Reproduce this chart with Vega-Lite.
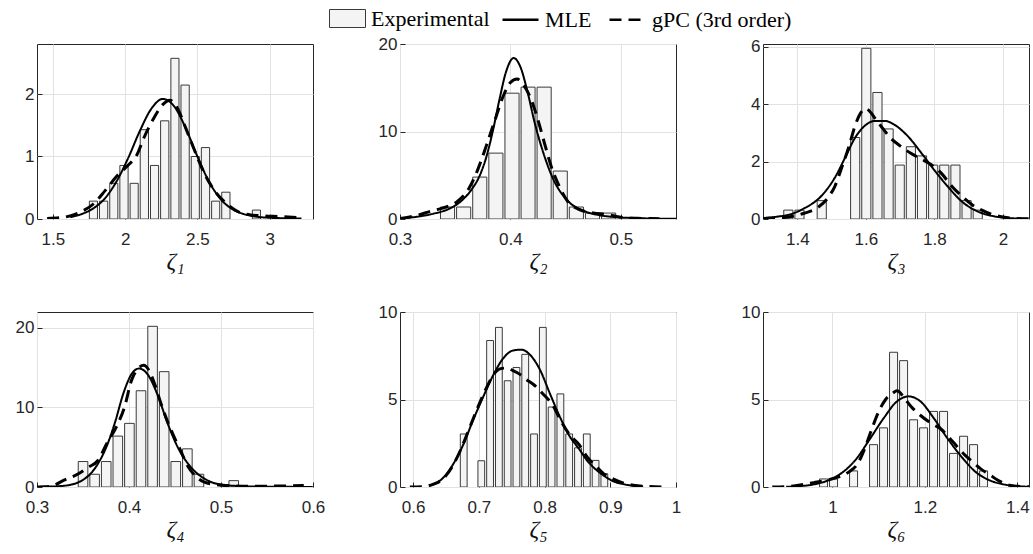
{
"$schema":"https://vega.github.io/schema/vega-lite/v6.json",
"background":"white",
"padding":{"left":14,"top":0,"right":0,"bottom":0},
"datasets":{
"bars":[
{"p":1,"lo":1.742,"hi":1.812,"d":0.286},{"p":1,"lo":1.812,"hi":1.883,"d":0.286},{"p":1,"lo":1.883,"hi":1.953,"d":0.571},{"p":1,"lo":1.953,"hi":2.024,"d":0.857},{"p":1,"lo":2.024,"hi":2.094,"d":0.571},{"p":1,"lo":2.094,"hi":2.165,"d":1.429},{"p":1,"lo":2.165,"hi":2.235,"d":0.857},{"p":1,"lo":2.235,"hi":2.306,"d":1.571},{"p":1,"lo":2.306,"hi":2.376,"d":2.571},{"p":1,"lo":2.376,"hi":2.447,"d":2.143},{"p":1,"lo":2.447,"hi":2.517,"d":1.0},{"p":1,"lo":2.517,"hi":2.588,"d":1.143},{"p":1,"lo":2.588,"hi":2.658,"d":0.286},{"p":1,"lo":2.658,"hi":2.729,"d":0.429},{"p":1,"lo":2.870,"hi":2.940,"d":0.143},
{"p":2,"lo":0.3353,"hi":0.3499,"d":1.37},{"p":2,"lo":0.3499,"hi":0.3645,"d":1.37},{"p":2,"lo":0.3645,"hi":0.3791,"d":4.79},{"p":2,"lo":0.3791,"hi":0.3937,"d":7.53},{"p":2,"lo":0.3937,"hi":0.4083,"d":14.38},{"p":2,"lo":0.4083,"hi":0.4228,"d":15.07},{"p":2,"lo":0.4228,"hi":0.4374,"d":15.07},{"p":2,"lo":0.4374,"hi":0.452,"d":5.48},{"p":2,"lo":0.452,"hi":0.4666,"d":1.37},{"p":2,"lo":0.4666,"hi":0.4812,"d":0.68},{"p":2,"lo":0.4812,"hi":0.4958,"d":0.68},
{"p":3,"lo":1.3562,"hi":1.3887,"d":0.31},{"p":3,"lo":1.3887,"hi":1.4212,"d":0.31},{"p":3,"lo":1.4537,"hi":1.4862,"d":0.64},{"p":3,"lo":1.5512,"hi":1.5837,"d":2.84},{"p":3,"lo":1.5837,"hi":1.6162,"d":5.95},{"p":3,"lo":1.6162,"hi":1.6487,"d":4.41},{"p":3,"lo":1.6487,"hi":1.6812,"d":3.14},{"p":3,"lo":1.6812,"hi":1.7137,"d":1.88},{"p":3,"lo":1.7137,"hi":1.7462,"d":2.52},{"p":3,"lo":1.7462,"hi":1.7787,"d":2.2},{"p":3,"lo":1.7787,"hi":1.8112,"d":1.88},{"p":3,"lo":1.8112,"hi":1.8437,"d":1.88},{"p":3,"lo":1.8437,"hi":1.8762,"d":1.88},{"p":3,"lo":1.8762,"hi":1.9087,"d":0.64},{"p":3,"lo":1.9087,"hi":1.9412,"d":0.31},
{"p":4,"lo":0.3432,"hi":0.3558,"d":3.2},{"p":4,"lo":0.3558,"hi":0.3684,"d":1.6},{"p":4,"lo":0.3684,"hi":0.381,"d":3.2},{"p":4,"lo":0.381,"hi":0.3936,"d":6.4},{"p":4,"lo":0.3936,"hi":0.4062,"d":8.0},{"p":4,"lo":0.4062,"hi":0.4188,"d":12.1},{"p":4,"lo":0.4188,"hi":0.4314,"d":20.2},{"p":4,"lo":0.4314,"hi":0.444,"d":14.5},{"p":4,"lo":0.444,"hi":0.4566,"d":3.2},{"p":4,"lo":0.4566,"hi":0.4692,"d":4.8},{"p":4,"lo":0.4692,"hi":0.4818,"d":1.6},{"p":4,"lo":0.507,"hi":0.5196,"d":0.8},
{"p":5,"lo":0.6695,"hi":0.6829,"d":3.03},{"p":5,"lo":0.6963,"hi":0.7096,"d":1.5},{"p":5,"lo":0.7096,"hi":0.723,"d":8.37},{"p":5,"lo":0.723,"hi":0.7364,"d":9.12},{"p":5,"lo":0.7364,"hi":0.7497,"d":6.07},{"p":5,"lo":0.7497,"hi":0.7631,"d":6.83},{"p":5,"lo":0.7631,"hi":0.7765,"d":7.58},{"p":5,"lo":0.7765,"hi":0.7899,"d":3.03},{"p":5,"lo":0.7899,"hi":0.8033,"d":9.12},{"p":5,"lo":0.8033,"hi":0.8166,"d":4.57},{"p":5,"lo":0.8166,"hi":0.83,"d":5.32},{"p":5,"lo":0.83,"hi":0.8434,"d":3.03},{"p":5,"lo":0.8434,"hi":0.8568,"d":2.24},{"p":5,"lo":0.8568,"hi":0.8702,"d":3.03},{"p":5,"lo":0.8702,"hi":0.8835,"d":1.52},{"p":5,"lo":0.8835,"hi":0.8969,"d":0.76},
{"p":6,"lo":0.969,"hi":0.9906,"d":0.46},{"p":6,"lo":0.9906,"hi":1.0122,"d":0.46},{"p":6,"lo":1.0339,"hi":1.0555,"d":0.92},{"p":6,"lo":1.0771,"hi":1.0987,"d":2.42},{"p":6,"lo":1.0987,"hi":1.1203,"d":3.38},{"p":6,"lo":1.1203,"hi":1.142,"d":7.7},{"p":6,"lo":1.142,"hi":1.1636,"d":7.22},{"p":6,"lo":1.1636,"hi":1.1852,"d":3.84},{"p":6,"lo":1.1852,"hi":1.2068,"d":3.38},{"p":6,"lo":1.2068,"hi":1.2284,"d":4.32},{"p":6,"lo":1.2284,"hi":1.25,"d":4.32},{"p":6,"lo":1.25,"hi":1.2717,"d":1.92},{"p":6,"lo":1.2717,"hi":1.2933,"d":2.9},{"p":6,"lo":1.2933,"hi":1.3149,"d":2.42},{"p":6,"lo":1.3149,"hi":1.3365,"d":0.92}
],
"curves":[
{"p":1,"s":"MLE","x":1.62,"y":0.03},{"p":1,"s":"MLE","x":1.70,"y":0.08},{"p":1,"s":"MLE","x":1.78,"y":0.17},{"p":1,"s":"MLE","x":1.86,"y":0.33},{"p":1,"s":"MLE","x":1.94,"y":0.6},{"p":1,"s":"MLE","x":2.02,"y":0.97},{"p":1,"s":"MLE","x":2.10,"y":1.4},{"p":1,"s":"MLE","x":2.18,"y":1.76},{"p":1,"s":"MLE","x":2.26,"y":1.92},{"p":1,"s":"MLE","x":2.34,"y":1.8},{"p":1,"s":"MLE","x":2.42,"y":1.45},{"p":1,"s":"MLE","x":2.50,"y":1.0},{"p":1,"s":"MLE","x":2.58,"y":0.6},{"p":1,"s":"MLE","x":2.66,"y":0.32},{"p":1,"s":"MLE","x":2.74,"y":0.16},{"p":1,"s":"MLE","x":2.82,"y":0.08},{"p":1,"s":"MLE","x":2.90,"y":0.04},{"p":1,"s":"MLE","x":3.00,"y":0.02},{"p":1,"s":"MLE","x":3.10,"y":0.012},{"p":1,"s":"MLE","x":3.22,"y":0.008},
{"p":1,"s":"gPC (3rd order)","x":1.46,"y":0.01},{"p":1,"s":"gPC (3rd order)","x":1.55,"y":0.02},{"p":1,"s":"gPC (3rd order)","x":1.62,"y":0.05},{"p":1,"s":"gPC (3rd order)","x":1.70,"y":0.12},{"p":1,"s":"gPC (3rd order)","x":1.78,"y":0.24},{"p":1,"s":"gPC (3rd order)","x":1.86,"y":0.45},{"p":1,"s":"gPC (3rd order)","x":1.94,"y":0.68},{"p":1,"s":"gPC (3rd order)","x":2.02,"y":0.86},{"p":1,"s":"gPC (3rd order)","x":2.08,"y":1.02},{"p":1,"s":"gPC (3rd order)","x":2.13,"y":1.3},{"p":1,"s":"gPC (3rd order)","x":2.20,"y":1.62},{"p":1,"s":"gPC (3rd order)","x":2.26,"y":1.83},{"p":1,"s":"gPC (3rd order)","x":2.31,"y":1.9},{"p":1,"s":"gPC (3rd order)","x":2.36,"y":1.78},{"p":1,"s":"gPC (3rd order)","x":2.42,"y":1.45},{"p":1,"s":"gPC (3rd order)","x":2.48,"y":1.1},{"p":1,"s":"gPC (3rd order)","x":2.55,"y":0.72},{"p":1,"s":"gPC (3rd order)","x":2.62,"y":0.45},{"p":1,"s":"gPC (3rd order)","x":2.70,"y":0.25},{"p":1,"s":"gPC (3rd order)","x":2.78,"y":0.12},{"p":1,"s":"gPC (3rd order)","x":2.86,"y":0.07},{"p":1,"s":"gPC (3rd order)","x":2.96,"y":0.05},{"p":1,"s":"gPC (3rd order)","x":3.06,"y":0.04},{"p":1,"s":"gPC (3rd order)","x":3.22,"y":0.02},
{"p":2,"s":"MLE","x":0.300,"y":0.08},{"p":2,"s":"MLE","x":0.315,"y":0.25},{"p":2,"s":"MLE","x":0.330,"y":0.6},{"p":2,"s":"MLE","x":0.345,"y":1.2},{"p":2,"s":"MLE","x":0.355,"y":2.0},{"p":2,"s":"MLE","x":0.365,"y":3.4},{"p":2,"s":"MLE","x":0.372,"y":4.9},{"p":2,"s":"MLE","x":0.378,"y":7.0},{"p":2,"s":"MLE","x":0.384,"y":10.0},{"p":2,"s":"MLE","x":0.390,"y":13.6},{"p":2,"s":"MLE","x":0.396,"y":16.8},{"p":2,"s":"MLE","x":0.403,"y":18.4},{"p":2,"s":"MLE","x":0.409,"y":17.4},{"p":2,"s":"MLE","x":0.415,"y":14.8},{"p":2,"s":"MLE","x":0.422,"y":11.0},{"p":2,"s":"MLE","x":0.430,"y":7.5},{"p":2,"s":"MLE","x":0.439,"y":4.5},{"p":2,"s":"MLE","x":0.451,"y":2.2},{"p":2,"s":"MLE","x":0.467,"y":0.9},{"p":2,"s":"MLE","x":0.480,"y":0.45},{"p":2,"s":"MLE","x":0.495,"y":0.22},{"p":2,"s":"MLE","x":0.520,"y":0.08},{"p":2,"s":"MLE","x":0.550,"y":0.02},
{"p":2,"s":"gPC (3rd order)","x":0.300,"y":0.05},{"p":2,"s":"gPC (3rd order)","x":0.315,"y":0.4},{"p":2,"s":"gPC (3rd order)","x":0.328,"y":0.9},{"p":2,"s":"gPC (3rd order)","x":0.340,"y":1.3},{"p":2,"s":"gPC (3rd order)","x":0.352,"y":2.0},{"p":2,"s":"gPC (3rd order)","x":0.362,"y":3.4},{"p":2,"s":"gPC (3rd order)","x":0.370,"y":5.5},{"p":2,"s":"gPC (3rd order)","x":0.378,"y":8.3},{"p":2,"s":"gPC (3rd order)","x":0.386,"y":11.3},{"p":2,"s":"gPC (3rd order)","x":0.394,"y":14.2},{"p":2,"s":"gPC (3rd order)","x":0.400,"y":15.6},{"p":2,"s":"gPC (3rd order)","x":0.406,"y":16.0},{"p":2,"s":"gPC (3rd order)","x":0.412,"y":15.3},{"p":2,"s":"gPC (3rd order)","x":0.419,"y":13.6},{"p":2,"s":"gPC (3rd order)","x":0.425,"y":11.3},{"p":2,"s":"gPC (3rd order)","x":0.431,"y":8.6},{"p":2,"s":"gPC (3rd order)","x":0.437,"y":6.0},{"p":2,"s":"gPC (3rd order)","x":0.444,"y":3.8},{"p":2,"s":"gPC (3rd order)","x":0.452,"y":2.0},{"p":2,"s":"gPC (3rd order)","x":0.462,"y":1.1},{"p":2,"s":"gPC (3rd order)","x":0.475,"y":0.7},{"p":2,"s":"gPC (3rd order)","x":0.488,"y":0.5},{"p":2,"s":"gPC (3rd order)","x":0.500,"y":0.2},{"p":2,"s":"gPC (3rd order)","x":0.515,"y":0.08},{"p":2,"s":"gPC (3rd order)","x":0.535,"y":0.03},
{"p":3,"s":"MLE","x":1.30,"y":0.03},{"p":3,"s":"MLE","x":1.34,"y":0.08},{"p":3,"s":"MLE","x":1.373,"y":0.14},{"p":3,"s":"MLE","x":1.42,"y":0.37},{"p":3,"s":"MLE","x":1.47,"y":0.8},{"p":3,"s":"MLE","x":1.51,"y":1.45},{"p":3,"s":"MLE","x":1.54,"y":2.15},{"p":3,"s":"MLE","x":1.567,"y":2.8},{"p":3,"s":"MLE","x":1.597,"y":3.25},{"p":3,"s":"MLE","x":1.626,"y":3.42},{"p":3,"s":"MLE","x":1.655,"y":3.42},{"p":3,"s":"MLE","x":1.684,"y":3.28},{"p":3,"s":"MLE","x":1.723,"y":2.88},{"p":3,"s":"MLE","x":1.762,"y":2.3},{"p":3,"s":"MLE","x":1.80,"y":1.7},{"p":3,"s":"MLE","x":1.84,"y":1.12},{"p":3,"s":"MLE","x":1.879,"y":0.62},{"p":3,"s":"MLE","x":1.927,"y":0.26},{"p":3,"s":"MLE","x":1.976,"y":0.09},{"p":3,"s":"MLE","x":2.02,"y":0.03},{"p":3,"s":"MLE","x":2.07,"y":0.01},
{"p":3,"s":"gPC (3rd order)","x":1.30,"y":0.02},{"p":3,"s":"gPC (3rd order)","x":1.36,"y":0.05},{"p":3,"s":"gPC (3rd order)","x":1.42,"y":0.2},{"p":3,"s":"gPC (3rd order)","x":1.46,"y":0.4},{"p":3,"s":"gPC (3rd order)","x":1.49,"y":0.75},{"p":3,"s":"gPC (3rd order)","x":1.51,"y":1.15},{"p":3,"s":"gPC (3rd order)","x":1.53,"y":1.8},{"p":3,"s":"gPC (3rd order)","x":1.55,"y":2.5},{"p":3,"s":"gPC (3rd order)","x":1.57,"y":3.3},{"p":3,"s":"gPC (3rd order)","x":1.585,"y":3.7},{"p":3,"s":"gPC (3rd order)","x":1.60,"y":3.85},{"p":3,"s":"gPC (3rd order)","x":1.615,"y":3.7},{"p":3,"s":"gPC (3rd order)","x":1.63,"y":3.45},{"p":3,"s":"gPC (3rd order)","x":1.65,"y":3.15},{"p":3,"s":"gPC (3rd order)","x":1.67,"y":2.85},{"p":3,"s":"gPC (3rd order)","x":1.70,"y":2.55},{"p":3,"s":"gPC (3rd order)","x":1.73,"y":2.3},{"p":3,"s":"gPC (3rd order)","x":1.76,"y":2.1},{"p":3,"s":"gPC (3rd order)","x":1.79,"y":1.9},{"p":3,"s":"gPC (3rd order)","x":1.82,"y":1.6},{"p":3,"s":"gPC (3rd order)","x":1.85,"y":1.15},{"p":3,"s":"gPC (3rd order)","x":1.88,"y":0.8},{"p":3,"s":"gPC (3rd order)","x":1.91,"y":0.5},{"p":3,"s":"gPC (3rd order)","x":1.94,"y":0.3},{"p":3,"s":"gPC (3rd order)","x":1.97,"y":0.15},{"p":3,"s":"gPC (3rd order)","x":2.00,"y":0.07},{"p":3,"s":"gPC (3rd order)","x":2.04,"y":0.02},{"p":3,"s":"gPC (3rd order)","x":2.08,"y":0.01},
{"p":4,"s":"MLE","x":0.303,"y":0.02},{"p":4,"s":"MLE","x":0.329,"y":0.15},{"p":4,"s":"MLE","x":0.35,"y":0.9},{"p":4,"s":"MLE","x":0.365,"y":2.7},{"p":4,"s":"MLE","x":0.376,"y":5.2},{"p":4,"s":"MLE","x":0.385,"y":8.2},{"p":4,"s":"MLE","x":0.394,"y":11.8},{"p":4,"s":"MLE","x":0.404,"y":14.4},{"p":4,"s":"MLE","x":0.411,"y":14.9},{"p":4,"s":"MLE","x":0.42,"y":14.2},{"p":4,"s":"MLE","x":0.431,"y":11.6},{"p":4,"s":"MLE","x":0.442,"y":8.0},{"p":4,"s":"MLE","x":0.453,"y":5.0},{"p":4,"s":"MLE","x":0.468,"y":2.4},{"p":4,"s":"MLE","x":0.486,"y":0.8},{"p":4,"s":"MLE","x":0.504,"y":0.25},{"p":4,"s":"MLE","x":0.534,"y":0.06},{"p":4,"s":"MLE","x":0.57,"y":0.02},{"p":4,"s":"MLE","x":0.6,"y":0.01},
{"p":4,"s":"gPC (3rd order)","x":0.300,"y":0.0},{"p":4,"s":"gPC (3rd order)","x":0.315,"y":0.1},{"p":4,"s":"gPC (3rd order)","x":0.330,"y":0.9},{"p":4,"s":"gPC (3rd order)","x":0.344,"y":1.6},{"p":4,"s":"gPC (3rd order)","x":0.356,"y":2.5},{"p":4,"s":"gPC (3rd order)","x":0.366,"y":3.3},{"p":4,"s":"gPC (3rd order)","x":0.376,"y":5.5},{"p":4,"s":"gPC (3rd order)","x":0.386,"y":7.5},{"p":4,"s":"gPC (3rd order)","x":0.395,"y":10.0},{"p":4,"s":"gPC (3rd order)","x":0.403,"y":13.5},{"p":4,"s":"gPC (3rd order)","x":0.410,"y":14.9},{"p":4,"s":"gPC (3rd order)","x":0.416,"y":15.3},{"p":4,"s":"gPC (3rd order)","x":0.422,"y":14.6},{"p":4,"s":"gPC (3rd order)","x":0.428,"y":12.9},{"p":4,"s":"gPC (3rd order)","x":0.435,"y":10.4},{"p":4,"s":"gPC (3rd order)","x":0.442,"y":8.2},{"p":4,"s":"gPC (3rd order)","x":0.449,"y":6.3},{"p":4,"s":"gPC (3rd order)","x":0.456,"y":4.6},{"p":4,"s":"gPC (3rd order)","x":0.464,"y":2.6},{"p":4,"s":"gPC (3rd order)","x":0.472,"y":1.4},{"p":4,"s":"gPC (3rd order)","x":0.482,"y":0.6},{"p":4,"s":"gPC (3rd order)","x":0.495,"y":0.3},{"p":4,"s":"gPC (3rd order)","x":0.51,"y":0.15},{"p":4,"s":"gPC (3rd order)","x":0.53,"y":0.1},{"p":4,"s":"gPC (3rd order)","x":0.56,"y":0.12},{"p":4,"s":"gPC (3rd order)","x":0.59,"y":0.2},
{"p":5,"s":"MLE","x":0.630,"y":0.12},{"p":5,"s":"MLE","x":0.645,"y":0.5},{"p":5,"s":"MLE","x":0.660,"y":1.25},{"p":5,"s":"MLE","x":0.676,"y":2.4},{"p":5,"s":"MLE","x":0.691,"y":3.8},{"p":5,"s":"MLE","x":0.706,"y":5.1},{"p":5,"s":"MLE","x":0.722,"y":6.4},{"p":5,"s":"MLE","x":0.737,"y":7.35},{"p":5,"s":"MLE","x":0.752,"y":7.8},{"p":5,"s":"MLE","x":0.765,"y":7.85},{"p":5,"s":"MLE","x":0.778,"y":7.55},{"p":5,"s":"MLE","x":0.793,"y":6.7},{"p":5,"s":"MLE","x":0.808,"y":5.35},{"p":5,"s":"MLE","x":0.824,"y":3.95},{"p":5,"s":"MLE","x":0.839,"y":2.85},{"p":5,"s":"MLE","x":0.852,"y":2.2},{"p":5,"s":"MLE","x":0.865,"y":1.5},{"p":5,"s":"MLE","x":0.878,"y":1.0},{"p":5,"s":"MLE","x":0.892,"y":0.6},{"p":5,"s":"MLE","x":0.905,"y":0.32},{"p":5,"s":"MLE","x":0.918,"y":0.18},{"p":5,"s":"MLE","x":0.935,"y":0.07},{"p":5,"s":"MLE","x":0.950,"y":0.03},
{"p":5,"s":"gPC (3rd order)","x":0.595,"y":0.0},{"p":5,"s":"gPC (3rd order)","x":0.615,"y":0.02},{"p":5,"s":"gPC (3rd order)","x":0.630,"y":0.15},{"p":5,"s":"gPC (3rd order)","x":0.645,"y":0.45},{"p":5,"s":"gPC (3rd order)","x":0.660,"y":1.2},{"p":5,"s":"gPC (3rd order)","x":0.672,"y":2.1},{"p":5,"s":"gPC (3rd order)","x":0.685,"y":3.3},{"p":5,"s":"gPC (3rd order)","x":0.700,"y":4.7},{"p":5,"s":"gPC (3rd order)","x":0.712,"y":5.7},{"p":5,"s":"gPC (3rd order)","x":0.722,"y":6.4},{"p":5,"s":"gPC (3rd order)","x":0.732,"y":6.75},{"p":5,"s":"gPC (3rd order)","x":0.742,"y":6.8},{"p":5,"s":"gPC (3rd order)","x":0.752,"y":6.65},{"p":5,"s":"gPC (3rd order)","x":0.762,"y":6.45},{"p":5,"s":"gPC (3rd order)","x":0.772,"y":6.15},{"p":5,"s":"gPC (3rd order)","x":0.785,"y":5.8},{"p":5,"s":"gPC (3rd order)","x":0.798,"y":5.3},{"p":5,"s":"gPC (3rd order)","x":0.812,"y":4.7},{"p":5,"s":"gPC (3rd order)","x":0.826,"y":3.7},{"p":5,"s":"gPC (3rd order)","x":0.840,"y":2.9},{"p":5,"s":"gPC (3rd order)","x":0.852,"y":2.45},{"p":5,"s":"gPC (3rd order)","x":0.865,"y":1.7},{"p":5,"s":"gPC (3rd order)","x":0.878,"y":1.2},{"p":5,"s":"gPC (3rd order)","x":0.892,"y":0.7},{"p":5,"s":"gPC (3rd order)","x":0.905,"y":0.45},{"p":5,"s":"gPC (3rd order)","x":0.918,"y":0.25},{"p":5,"s":"gPC (3rd order)","x":0.935,"y":0.1},{"p":5,"s":"gPC (3rd order)","x":0.955,"y":0.03},{"p":5,"s":"gPC (3rd order)","x":0.985,"y":0.0},
{"p":6,"s":"MLE","x":0.90,"y":0.01},{"p":6,"s":"MLE","x":0.93,"y":0.05},{"p":6,"s":"MLE","x":0.96,"y":0.15},{"p":6,"s":"MLE","x":0.99,"y":0.37},{"p":6,"s":"MLE","x":1.02,"y":0.8},{"p":6,"s":"MLE","x":1.05,"y":1.55},{"p":6,"s":"MLE","x":1.08,"y":2.7},{"p":6,"s":"MLE","x":1.11,"y":3.9},{"p":6,"s":"MLE","x":1.14,"y":4.9},{"p":6,"s":"MLE","x":1.165,"y":5.18},{"p":6,"s":"MLE","x":1.19,"y":4.9},{"p":6,"s":"MLE","x":1.22,"y":3.9},{"p":6,"s":"MLE","x":1.25,"y":2.73},{"p":6,"s":"MLE","x":1.28,"y":1.7},{"p":6,"s":"MLE","x":1.31,"y":0.85},{"p":6,"s":"MLE","x":1.34,"y":0.38},{"p":6,"s":"MLE","x":1.37,"y":0.15},{"p":6,"s":"MLE","x":1.40,"y":0.05},{"p":6,"s":"MLE","x":1.43,"y":0.01},
{"p":6,"s":"gPC (3rd order)","x":0.87,"y":0.0},{"p":6,"s":"gPC (3rd order)","x":0.90,"y":0.02},{"p":6,"s":"gPC (3rd order)","x":0.93,"y":0.12},{"p":6,"s":"gPC (3rd order)","x":0.96,"y":0.25},{"p":6,"s":"gPC (3rd order)","x":0.99,"y":0.4},{"p":6,"s":"gPC (3rd order)","x":1.01,"y":0.55},{"p":6,"s":"gPC (3rd order)","x":1.035,"y":0.85},{"p":6,"s":"gPC (3rd order)","x":1.055,"y":1.35},{"p":6,"s":"gPC (3rd order)","x":1.07,"y":2.2},{"p":6,"s":"gPC (3rd order)","x":1.085,"y":3.3},{"p":6,"s":"gPC (3rd order)","x":1.10,"y":4.3},{"p":6,"s":"gPC (3rd order)","x":1.115,"y":5.0},{"p":6,"s":"gPC (3rd order)","x":1.13,"y":5.35},{"p":6,"s":"gPC (3rd order)","x":1.14,"y":5.5},{"p":6,"s":"gPC (3rd order)","x":1.155,"y":5.1},{"p":6,"s":"gPC (3rd order)","x":1.17,"y":4.6},{"p":6,"s":"gPC (3rd order)","x":1.19,"y":4.1},{"p":6,"s":"gPC (3rd order)","x":1.21,"y":3.7},{"p":6,"s":"gPC (3rd order)","x":1.235,"y":3.3},{"p":6,"s":"gPC (3rd order)","x":1.26,"y":2.6},{"p":6,"s":"gPC (3rd order)","x":1.28,"y":2.0},{"p":6,"s":"gPC (3rd order)","x":1.30,"y":1.5},{"p":6,"s":"gPC (3rd order)","x":1.32,"y":1.05},{"p":6,"s":"gPC (3rd order)","x":1.34,"y":0.7},{"p":6,"s":"gPC (3rd order)","x":1.36,"y":0.35},{"p":6,"s":"gPC (3rd order)","x":1.38,"y":0.12},{"p":6,"s":"gPC (3rd order)","x":1.40,"y":0.04},{"p":6,"s":"gPC (3rd order)","x":1.425,"y":0.01}
]
},
"columns":3,
"spacing":{"row":93,"column":87},
"bounds":"flush",
"concat":[
{"width":276,"height":175,"layer":[
 {"data":{"name":"bars"},"transform":[{"filter":"datum.p==1"}],"mark":{"type":"bar","stroke":"#3a3a3a","strokeWidth":1,"binSpacing":2,"clip":true},
  "encoding":{"x":{"field":"lo","type":"quantitative","bin":"binned","scale":{"domain":[1.39,3.3],"nice":false,"zero":false},"axis":{"title":"ζ₁","values":[1.5,2,2.5,3]}},"x2":{"field":"hi"},
  "y":{"field":"d","type":"quantitative","scale":{"domain":[0,2.8],"nice":false},"axis":{"title":null,"values":[0,1,2]}},
  "fill":{"datum":"Experimental","type":"nominal","title":null,"scale":{"domain":["Experimental"],"range":["#f4f4f4"]},
   "legend":{"orient":"none","legendX":292,"legendY":-44,"direction":"horizontal","title":null,"symbolType":"M-1,-0.5H1V0.5H-1Z","symbolSize":1296,"symbolStrokeColor":"#222222","symbolStrokeWidth":1,"symbolFillColor":"#f4f4f4","labelFont":"Liberation Serif","labelFontSize":22,"labelColor":"black","labelOffset":5}}}},
 {"data":{"name":"curves"},"transform":[{"filter":"datum.p==1 && datum.s=='MLE'"}],"mark":{"type":"line","color":"black","strokeWidth":2,"interpolate":"monotone","clip":true},
  "encoding":{"x":{"field":"x","type":"quantitative","axis":{"title":"ζ₁"}},"y":{"field":"y","type":"quantitative","axis":{"title":null}},"strokeDash":{"field":"s","type":"nominal","title":null,"scale":{"domain":["MLE","gPC (3rd order)"],"range":[[1,0],[12,7]]},
   "legend":{"orient":"none","legendX":464,"legendY":-44,"direction":"horizontal","title":null,"symbolType":"stroke","symbolSize":1296,"symbolStrokeWidth":2.5,"symbolStrokeColor":"black","labelFont":"Liberation Serif","labelFontSize":22,"labelColor":"black","columnPadding":12,"labelOffset":5}}}},
 {"data":{"name":"curves"},"transform":[{"filter":"datum.p==1 && datum.s!='MLE'"}],"mark":{"type":"line","color":"black","strokeWidth":3,"interpolate":"monotone","clip":true},
  "encoding":{"x":{"field":"x","type":"quantitative","axis":{"title":"ζ₁"}},"y":{"field":"y","type":"quantitative","axis":{"title":null}},"strokeDash":{"field":"s","type":"nominal","title":null,"scale":{"domain":["MLE","gPC (3rd order)"],"range":[[1,0],[12,7]]}}}}
]},
{"width":276,"height":175,"layer":[
 {"data":{"name":"bars"},"transform":[{"filter":"datum.p==2"}],"mark":{"type":"bar","stroke":"#3a3a3a","strokeWidth":1,"binSpacing":2,"clip":true},
  "encoding":{"x":{"field":"lo","type":"quantitative","bin":"binned","scale":{"domain":[0.3,0.55],"nice":false,"zero":false},"axis":{"title":"ζ₂","values":[0.3,0.4,0.5]}},"x2":{"field":"hi"},
  "y":{"field":"d","type":"quantitative","scale":{"domain":[0,20],"nice":false},"axis":{"title":null,"values":[0,10,20]}},
  "fill":{"datum":"Experimental","type":"nominal","title":null,"scale":{"domain":["Experimental"],"range":["#f4f4f4"]}}}},
 {"data":{"name":"curves"},"transform":[{"filter":"datum.p==2 && datum.s=='MLE'"}],"mark":{"type":"line","color":"black","strokeWidth":2,"interpolate":"monotone","clip":true},
  "encoding":{"x":{"field":"x","type":"quantitative","axis":{"title":"ζ₂"}},"y":{"field":"y","type":"quantitative","axis":{"title":null}},"strokeDash":{"field":"s","type":"nominal","title":null,"scale":{"domain":["MLE","gPC (3rd order)"],"range":[[1,0],[12,7]]}}}},
 {"data":{"name":"curves"},"transform":[{"filter":"datum.p==2 && datum.s!='MLE'"}],"mark":{"type":"line","color":"black","strokeWidth":3,"interpolate":"monotone","clip":true},
  "encoding":{"x":{"field":"x","type":"quantitative","axis":{"title":"ζ₂"}},"y":{"field":"y","type":"quantitative","axis":{"title":null}},"strokeDash":{"field":"s","type":"nominal","title":null,"scale":{"domain":["MLE","gPC (3rd order)"],"range":[[1,0],[12,7]]}}}}
]},
{"width":266,"height":175,"layer":[
 {"data":{"name":"bars"},"transform":[{"filter":"datum.p==3"}],"mark":{"type":"bar","stroke":"#3a3a3a","strokeWidth":1,"binSpacing":2,"clip":true},
  "encoding":{"x":{"field":"lo","type":"quantitative","bin":"binned","scale":{"domain":[1.3,2.076],"nice":false,"zero":false},"axis":{"title":"ζ₃","values":[1.4,1.6,1.8,2]}},"x2":{"field":"hi"},
  "y":{"field":"d","type":"quantitative","scale":{"domain":[0,6.1],"nice":false},"axis":{"title":null,"values":[0,2,4,6]}},
  "fill":{"datum":"Experimental","type":"nominal","title":null,"scale":{"domain":["Experimental"],"range":["#f4f4f4"]}}}},
 {"data":{"name":"curves"},"transform":[{"filter":"datum.p==3 && datum.s=='MLE'"}],"mark":{"type":"line","color":"black","strokeWidth":2,"interpolate":"monotone","clip":true},
  "encoding":{"x":{"field":"x","type":"quantitative","axis":{"title":"ζ₃"}},"y":{"field":"y","type":"quantitative","axis":{"title":null}},"strokeDash":{"field":"s","type":"nominal","title":null,"scale":{"domain":["MLE","gPC (3rd order)"],"range":[[1,0],[12,7]]}}}},
 {"data":{"name":"curves"},"transform":[{"filter":"datum.p==3 && datum.s!='MLE'"}],"mark":{"type":"line","color":"black","strokeWidth":3,"interpolate":"monotone","clip":true},
  "encoding":{"x":{"field":"x","type":"quantitative","axis":{"title":"ζ₃"}},"y":{"field":"y","type":"quantitative","axis":{"title":null}},"strokeDash":{"field":"s","type":"nominal","title":null,"scale":{"domain":["MLE","gPC (3rd order)"],"range":[[1,0],[12,7]]}}}}
]},
{"width":276,"height":175,"layer":[
 {"data":{"name":"bars"},"transform":[{"filter":"datum.p==4"}],"mark":{"type":"bar","stroke":"#3a3a3a","strokeWidth":1,"binSpacing":2,"clip":true},
  "encoding":{"x":{"field":"lo","type":"quantitative","bin":"binned","scale":{"domain":[0.3,0.6],"nice":false,"zero":false},"axis":{"title":"ζ₄","values":[0.3,0.4,0.5,0.6]}},"x2":{"field":"hi"},
  "y":{"field":"d","type":"quantitative","scale":{"domain":[0,22],"nice":false},"axis":{"title":null,"values":[0,10,20]}},
  "fill":{"datum":"Experimental","type":"nominal","title":null,"scale":{"domain":["Experimental"],"range":["#f4f4f4"]}}}},
 {"data":{"name":"curves"},"transform":[{"filter":"datum.p==4 && datum.s=='MLE'"}],"mark":{"type":"line","color":"black","strokeWidth":2,"interpolate":"monotone","clip":true},
  "encoding":{"x":{"field":"x","type":"quantitative","axis":{"title":"ζ₄"}},"y":{"field":"y","type":"quantitative","axis":{"title":null}},"strokeDash":{"field":"s","type":"nominal","title":null,"scale":{"domain":["MLE","gPC (3rd order)"],"range":[[1,0],[12,7]]}}}},
 {"data":{"name":"curves"},"transform":[{"filter":"datum.p==4 && datum.s!='MLE'"}],"mark":{"type":"line","color":"black","strokeWidth":3,"interpolate":"monotone","clip":true},
  "encoding":{"x":{"field":"x","type":"quantitative","axis":{"title":"ζ₄"}},"y":{"field":"y","type":"quantitative","axis":{"title":null}},"strokeDash":{"field":"s","type":"nominal","title":null,"scale":{"domain":["MLE","gPC (3rd order)"],"range":[[1,0],[12,7]]}}}}
]},
{"width":276,"height":175,"layer":[
 {"data":{"name":"bars"},"transform":[{"filter":"datum.p==5"}],"mark":{"type":"bar","stroke":"#3a3a3a","strokeWidth":1,"binSpacing":2,"clip":true},
  "encoding":{"x":{"field":"lo","type":"quantitative","bin":"binned","scale":{"domain":[0.58,1.0],"nice":false,"zero":false},"axis":{"title":"ζ₅","values":[0.6,0.7,0.8,0.9,1]}},"x2":{"field":"hi"},
  "y":{"field":"d","type":"quantitative","scale":{"domain":[0,10],"nice":false},"axis":{"title":null,"values":[0,5,10]}},
  "fill":{"datum":"Experimental","type":"nominal","title":null,"scale":{"domain":["Experimental"],"range":["#f4f4f4"]}}}},
 {"data":{"name":"curves"},"transform":[{"filter":"datum.p==5 && datum.s=='MLE'"}],"mark":{"type":"line","color":"black","strokeWidth":2,"interpolate":"monotone","clip":true},
  "encoding":{"x":{"field":"x","type":"quantitative","axis":{"title":"ζ₅"}},"y":{"field":"y","type":"quantitative","axis":{"title":null}},"strokeDash":{"field":"s","type":"nominal","title":null,"scale":{"domain":["MLE","gPC (3rd order)"],"range":[[1,0],[12,7]]}}}},
 {"data":{"name":"curves"},"transform":[{"filter":"datum.p==5 && datum.s!='MLE'"}],"mark":{"type":"line","color":"black","strokeWidth":3,"interpolate":"monotone","clip":true},
  "encoding":{"x":{"field":"x","type":"quantitative","axis":{"title":"ζ₅"}},"y":{"field":"y","type":"quantitative","axis":{"title":null}},"strokeDash":{"field":"s","type":"nominal","title":null,"scale":{"domain":["MLE","gPC (3rd order)"],"range":[[1,0],[12,7]]}}}}
]},
{"width":266,"height":175,"layer":[
 {"data":{"name":"bars"},"transform":[{"filter":"datum.p==6"}],"mark":{"type":"bar","stroke":"#3a3a3a","strokeWidth":1,"binSpacing":2,"clip":true},
  "encoding":{"x":{"field":"lo","type":"quantitative","bin":"binned","scale":{"domain":[0.85,1.425],"nice":false,"zero":false},"axis":{"title":"ζ₆","values":[1,1.2,1.4]}},"x2":{"field":"hi"},
  "y":{"field":"d","type":"quantitative","scale":{"domain":[0,10],"nice":false},"axis":{"title":null,"values":[0,5,10]}},
  "fill":{"datum":"Experimental","type":"nominal","title":null,"scale":{"domain":["Experimental"],"range":["#f4f4f4"]}}}},
 {"data":{"name":"curves"},"transform":[{"filter":"datum.p==6 && datum.s=='MLE'"}],"mark":{"type":"line","color":"black","strokeWidth":2,"interpolate":"monotone","clip":true},
  "encoding":{"x":{"field":"x","type":"quantitative","axis":{"title":"ζ₆"}},"y":{"field":"y","type":"quantitative","axis":{"title":null}},"strokeDash":{"field":"s","type":"nominal","title":null,"scale":{"domain":["MLE","gPC (3rd order)"],"range":[[1,0],[12,7]]}}}},
 {"data":{"name":"curves"},"transform":[{"filter":"datum.p==6 && datum.s!='MLE'"}],"mark":{"type":"line","color":"black","strokeWidth":3,"interpolate":"monotone","clip":true},
  "encoding":{"x":{"field":"x","type":"quantitative","axis":{"title":"ζ₆"}},"y":{"field":"y","type":"quantitative","axis":{"title":null}},"strokeDash":{"field":"s","type":"nominal","title":null,"scale":{"domain":["MLE","gPC (3rd order)"],"range":[[1,0],[12,7]]}}}}
]}
],
"config":{
 "view":{"stroke":"#262626","strokeWidth":1},
 "axis":{"labelFont":"Liberation Sans","labelFontSize":17,"labelColor":"#262626","tickColor":"#262626","tickSize":-5,"domain":false,"grid":true,"gridColor":"#e2e2e2","gridWidth":1,"labelFlush":false,"labelOverlap":false,"format":"~f","labelPadding":6,"titleFont":"Liberation Serif","titleFontStyle":"italic","titleFontWeight":"normal","titleFontSize":24,"titleColor":"#111111"},
 "axisX":{"titlePadding":2,"labelPadding":17},
 "axisY":{"labelPadding":8}
}
}
